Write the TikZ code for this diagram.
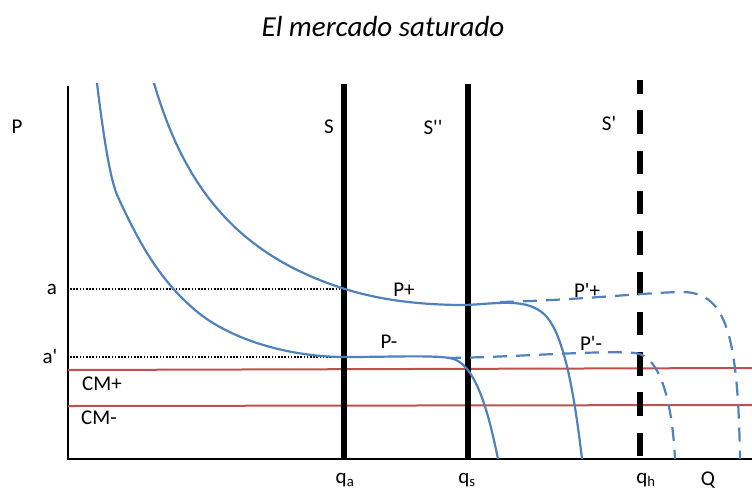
\documentclass[tikz,border=0pt]{standalone}
\usepackage{fontspec}
\setmainfont{Carlito}
\definecolor{curveblue}{RGB}{79,129,189}
\definecolor{cmred}{RGB}{192,80,77}
\newcommand{\sq}{\textquotesingle}
\begin{document}
\begin{tikzpicture}[x=1pt,y=-1pt,
  lbl/.style={font=\fontsize{21}{24}\selectfont, inner sep=0pt},
  axisline/.style={line width=2.5pt, black},
  supply/.style={line width=6pt, black},
  demand/.style={line width=2.2pt, curveblue},
  demanddash/.style={line width=2.2pt, curveblue, dash pattern=on 14pt off 9pt},
  cost/.style={line width=2pt, cmred},
  guide/.style={line width=2pt, black, dash pattern=on 1.6pt off 1.6pt}]
\useasboundingbox (0,0) rectangle (752,491);
% title
\node[font=\fontsize{29}{32}\selectfont\itshape, inner sep=0pt] (title) at (383,27) {El mercado saturado};
% axes
\coordinate (O) at (68,459);
\coordinate (ytop) at (68,86);
\coordinate (xend) at (752,459);
\draw[axisline] (ytop) -- (O) -- (xend);
% cost lines
\coordinate (cmpL) at (68,370); \coordinate (cmpR) at (752,368);
\coordinate (cmmL) at (68,406); \coordinate (cmmR) at (752,405);
\draw[cost] (cmpL) -- (cmpR);
\draw[cost] (cmmL) -- (cmmR);
% guides
\coordinate (aL) at (70,289); \coordinate (aR) at (344,289);
\coordinate (apL) at (70,357); \coordinate (apR) at (344,357);
\draw[guide] (aL) -- (aR);
\draw[guide] (apL) -- (apR);
% supply lines
\coordinate (Stop) at (344,84); \coordinate (Sbot) at (344,459);
\coordinate (S2top) at (468,84); \coordinate (S2bot) at (468,459);
\coordinate (S1top) at (640,80); \coordinate (S1bot) at (640,459);
\draw[supply] (Stop) -- (Sbot);
\draw[supply] (S2top) -- (S2bot);
\draw[line width=6pt, black, dash pattern=on 23.5pt off 16.8pt, dash phase=10pt] (S1top) -- (S1bot);
% demand curve P+ (solid) and P'+ (dashed)
\coordinate (u0) at (154,83);
\coordinate (u1) at (345,289);
\coordinate (u2) at (465,305);
\coordinate (u3) at (545,315);
\coordinate (u4) at (582,459);
\draw[demand] (u0) .. controls (185,190) and (240,256) .. (u1)
  .. controls (380,300) and (420,305) .. (u2)
  .. controls (495,304) and (527,297) .. (u3)
  .. controls (565,335) and (575,400) .. (u4);
\coordinate (d0) at (500,302);
\coordinate (d1) at (680,292);
\coordinate (d2) at (740,459);
\draw[demanddash] (d0) .. controls (580,300) and (640,293) .. (d1)
  .. controls (725,291) and (738,330) .. (d2);
% demand curve P- (solid) and P'- (dashed)
\coordinate (l0) at (97,83);
\coordinate (l1) at (118,197);
\coordinate (l2) at (195,310);
\coordinate (l3) at (345,357);
\coordinate (l4) at (450,358);
\coordinate (l5) at (498,459);
\draw[demand] (l0) .. controls (105,150) and (112,185) .. (l1)
  .. controls (140,245) and (160,280) .. (l2)
  .. controls (230,340) and (290,357) .. (l3)
  .. controls (390,357) and (430,355) .. (l4)
  .. controls (475,362) and (488,410) .. (l5);
\coordinate (e0) at (447,358);
\coordinate (e1) at (635,353);
\coordinate (e2) at (675,459);
\draw[demanddash] (e0) .. controls (520,357) and (600,350) .. (e1)
  .. controls (660,356) and (672,400) .. (e2);
% labels
\node[lbl] (P) at (17,127) {P};
\node[lbl] (a) at (52,289) {a};
\node[lbl] (ap) at (50,356) {a\sq};
\node[lbl, anchor=west] (CMp) at (82,384) {CM+};
\node[lbl, anchor=west] (CMm) at (81,418) {CM-};
\node[lbl] (S) at (329,127) {S};
\node[lbl] (S2) at (433,127) {S\sq\sq};
\node[lbl] (S1) at (609,123) {S\sq};
\node[lbl] (Pp) at (404,290) {P+};
\node[lbl] (Pm) at (389,342) {P-};
\node[lbl] (P1p) at (587,290) {P\sq+};
\node[lbl] (P1m) at (591,343) {P\sq-};
\node[lbl] (qa) at (345,480) {q\textsubscript{a}};
\node[lbl] (qs) at (467,480) {q\textsubscript{s}};
\node[lbl] (qh) at (646,480) {q\textsubscript{h}};
\node[lbl] (Q) at (708,480) {Q};
\end{tikzpicture}
\end{document}
